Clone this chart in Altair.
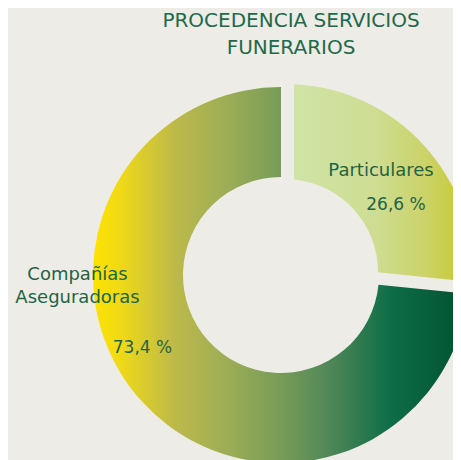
import math
import altair as alt
import pandas as pd

# ---- data ----
categories = ["Particulares", "Compañías Aseguradoras"]
values = [26.6, 73.4]
title_lines = ["PROCEDENCIA SERVICIOS", "FUNERARIOS"]

BG = "#EDECE6"
TXT = "#1E6447"
FONT = "DejaVu Sans"

df = pd.DataFrame({"categoria": categories, "valor": values})
title_df = pd.DataFrame({"titulo": ["\n".join(title_lines)]})

base = (
    alt.Chart(df)
    .transform_window(fin="sum(valor)", frame=[None, 0])
    .transform_calculate(
        inicio="datum.fin - datum.valor",
        etiqueta="replace(format(datum.valor, '.1f'), '.', ',') + ' %'",
    )
)

theta_scale = alt.Scale(domain=[0, 100], range=[0, 2 * math.pi])
CX, CY = 273, 267


def grad(stops):
    return alt.LinearGradient(
        gradient="linear",
        stops=[alt.GradientStop(offset=o, color=c) for o, c in stops],
        x1=0, x2=1, y1=0, y2=0,
    )


grad_big = grad([
    (0.0, "#FFE200"),
    (0.07, "#F0DA16"),
    (0.22, "#BCB94A"),
    (0.36, "#9CAD56"),
    (0.5, "#779C58"),
    (0.63, "#508757"),
    (0.79, "#0E6E47"),
    (1.0, "#00502E"),
])
grad_small = grad([
    (0.0, "#D0E4A7"),
    (0.45, "#CEDD92"),
    (0.75, "#CBD266"),
    (0.93, "#C6CB36"),
    (1.0, "#C4C82A"),
])


def arc(cat, fill, inner, xo, yo, pad):
    return (
        base.transform_filter(alt.datum.categoria == cat)
        .mark_arc(innerRadius=inner, outerRadius=188, fill=fill,
                  xOffset=xo, yOffset=yo, padAngle=pad)
        .encode(
            theta=alt.Theta("inicio:Q", scale=theta_scale),
            theta2=alt.Theta2("fin:Q"),
            x=alt.value(CX),
            y=alt.value(CY),
        )
    )


arc_big = arc(categories[1], grad_big, 98, 0, 0, 0)
arc_small = arc(categories[0], grad_small, 93, 4, -3, 0.086)


def label(cat, field, x, y, size, brk=None):
    kw = dict(font=FONT, fontSize=size, color=TXT, align="center",
              baseline="alphabetic", lineHeight=23)
    if brk:
        kw["lineBreak"] = brk
    return (
        base.transform_filter(alt.datum.categoria == cat)
        .mark_text(**kw)
        .encode(text=alt.Text(f"{field}:N"), x=alt.value(x), y=alt.value(y))
    )


lab_p_name = label(categories[0], "categoria", 373, 168, 18)
lab_p_val = label(categories[0], "etiqueta", 388, 202, 17)
lab_c_name = label(categories[1], "categoria", 69.5, 272, 18, brk=" ")
lab_c_val = label(categories[1], "etiqueta", 134.5, 345, 17)

title = (
    alt.Chart(title_df)
    .mark_text(font=FONT, fontSize=20, color="#22694B", align="center",
               baseline="alphabetic", lineBreak="\n", lineHeight=27)
    .encode(text="titulo:N", x=alt.value(283), y=alt.value(19))
)

chart = (
    alt.layer(arc_big, arc_small, lab_p_name, lab_p_val, lab_c_name, lab_c_val, title)
    .properties(width=445, height=452, background=BG, padding=0,
                autosize=alt.AutoSizeParams(type="none"))
    .configure_view(stroke="transparent")
)

chart.save("out.html", embed_options={"renderer": "svg", "actions": False})
